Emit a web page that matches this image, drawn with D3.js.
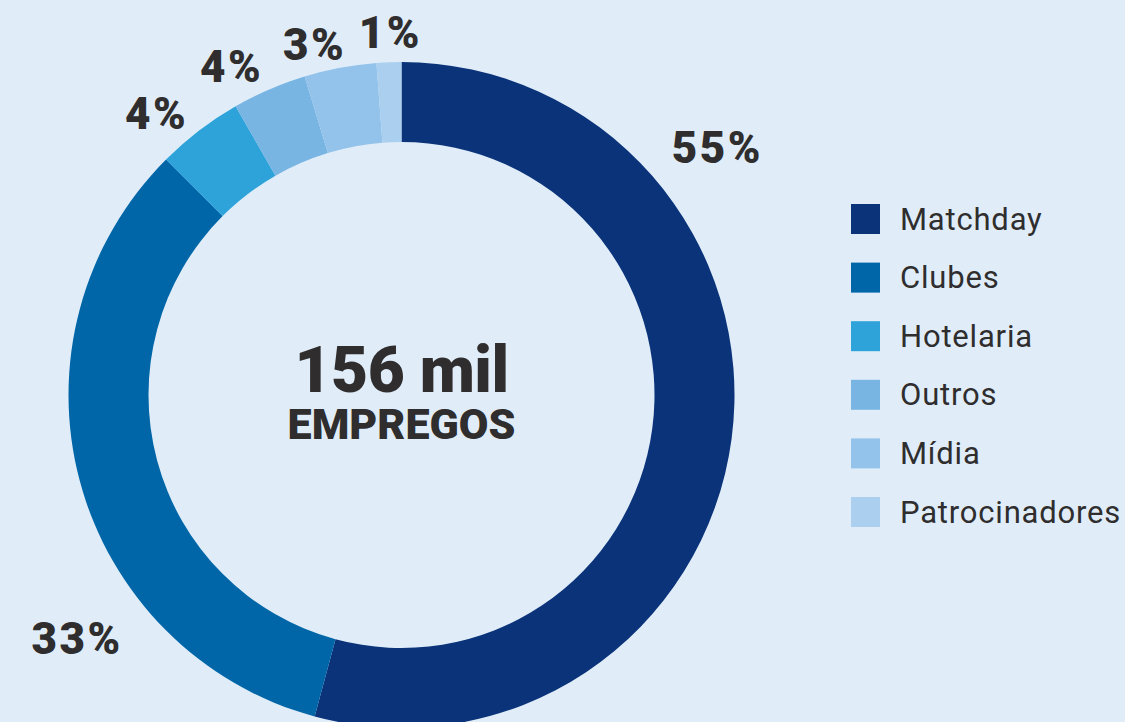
<!DOCTYPE html>
<html>
<head>
<meta charset="utf-8">
<script src="https://cdn.jsdelivr.net/npm/d3@7"></script>
<style>
  html, body { margin: 0; padding: 0; background: #e0edf9; }
  svg { display: block; }
  text { font-family: Roboto, "Liberation Sans", sans-serif; fill: #2f2d2e; }
</style>
</head>
<body>
<svg></svg>
<script>
// DATA
const categories = ['Matchday', 'Clubes', 'Hotelaria', 'Outros', 'Mídia', 'Patrocinadores'];
const values     = [54.2, 33.3, 4.2, 3.6, 3.5, 1.2];
const pctLabels  = ['55%', '33%', '4%', '4%', '3%', '1%'];
const colors     = ['#0a337a', '#0066a8', '#2ea3da', '#78b5e3', '#93c3ea', '#abcfee'];
const centerTitle = '156 mil';
const centerSub   = 'EMPREGOS';

// label placement: angle shift from slice centroid (deg) and radius
const labelPlace = [
    { shift: -45.6, r: 401 },
    { shift: -22,   r: 406 },
    { shift: -3.6,  r: 373 },
    { shift: -4,    r: 369 },
    { shift: -3.3,  r: 361 },
    { shift: 0.4,   r: 362 },
];

const sizes = {
    WIDTH: 1125,
    HEIGHT: 722,
    cx: 401.5,
    cy: 395,
    outer: 333,
    inner: 253,
    legend: { left: 851, top: 204, box: 30, step: 58.6, textX: 900 },
};

var svg = d3.select('svg')
    .attr('width', sizes.WIDTH)
    .attr('height', sizes.HEIGHT);

var pie = d3.pie().sort(null).value(d => d.value);
var arc = d3.arc().innerRadius(sizes.inner).outerRadius(sizes.outer);

var data = categories.map((c, i) => ({ name: c, value: values[i], label: pctLabels[i], color: colors[i], place: labelPlace[i] }));
var arcs = pie(data);

var gPie = svg.append('g')
    .attr('transform', 'translate(' + sizes.cx + ',' + sizes.cy + ')');

gPie.selectAll('path.slice')
    .data(arcs)
    .join('path')
    .attr('class', 'slice')
    .attr('d', arc)
    .attr('fill', d => d.data.color);

function labelAngle(d) {
    return (d.startAngle + d.endAngle) / 2 + d.data.place.shift * Math.PI / 180;
}

// percent labels
gPie.selectAll('text.pct')
    .data(arcs)
    .join('text')
    .attr('class', 'pct')
    .attr('x', d => Math.sin(labelAngle(d)) * d.data.place.r)
    .attr('y', d => -Math.cos(labelAngle(d)) * d.data.place.r)
    .attr('text-anchor', 'middle')
    .attr('dominant-baseline', 'central')
    .style('font-size', '44px')
    .style('font-weight', 900)
    .style('letter-spacing', '2.5px')
    .text(d => d.data.label);

// center text
gPie.append('text')
    .attr('x', 0)
    .attr('y', -3)
    .attr('text-anchor', 'middle')
    .style('font-size', '64px')
    .style('font-weight', 900)
    .style('letter-spacing', '-0.5px')
    .text(centerTitle);

gPie.append('text')
    .attr('x', 0)
    .attr('y', 44)
    .attr('text-anchor', 'middle')
    .style('font-size', '43px')
    .style('font-weight', 900)
    .text(centerSub);

// legend
var yLegend = d3.scaleLinear()
    .domain([0, 1])
    .range([sizes.legend.top, sizes.legend.top + sizes.legend.step]);

var gLegend = svg.append('g').attr('class', 'legend');

var items = gLegend.selectAll('g.item')
    .data(data)
    .join('g')
    .attr('class', 'item')
    .attr('transform', (d, i) => 'translate(0,' + yLegend(i) + ')');

items.append('rect')
    .attr('x', sizes.legend.left)
    .attr('y', 0)
    .attr('width', sizes.legend.box - 1)
    .attr('height', sizes.legend.box)
    .attr('fill', d => d.color);

items.append('text')
    .attr('x', sizes.legend.textX)
    .attr('y', sizes.legend.box / 2)
    .attr('dominant-baseline', 'central')
    .style('font-size', '31px')
    .style('font-weight', 400)
    .style('letter-spacing', '0.8px')
    .text(d => d.name);
</script>
</body>
</html>
